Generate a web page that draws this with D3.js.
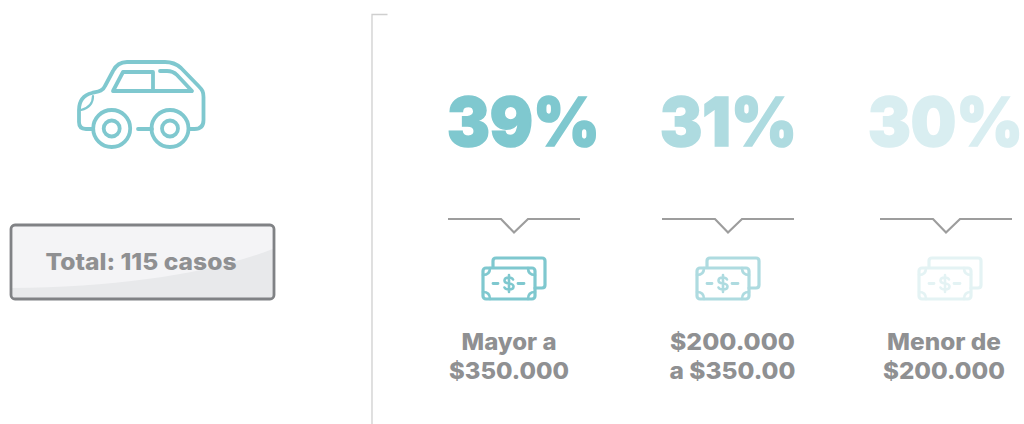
<!DOCTYPE html>
<html><head><meta charset="utf-8">
<script src="https://cdn.jsdelivr.net/npm/d3@7"></script>
<style>html,body{margin:0;padding:0;background:#fff}svg{display:block}text{font-family:Inter,"Open Sans",sans-serif}</style>
</head><body><svg id="c" width="1024" height="424"></svg>
<script>
const categories = ["Mayor a|$350.000", "$200.000|a $350.00", "Menor de|$200.000"];
const percents = [39, 31, 30];
const colors = ["#7fc8cf", "#aedbe0", "#d9eef1"];
const iconColors = ["#7fc8cf", "#aedbe0", "#e4f3f4"];
const totalLabel = "Total: 115 casos";
const pctX = [447, 660, 868], pctW = [153, 137, 155];
const lineX = [448, 662, 880];
const iconDx = [0, 214, 436];
const labelCx = [509, 732.5, 944];
const labelW = [[95, 120], [125, 126], [114, 122]];
const grey = "#8f9092";

const svg = d3.select("#c");

// divider
svg.append("path").attr("d", "M387.5 14.5H372V424").attr("fill", "none").attr("stroke", "#cfcfcf").attr("stroke-width", 1.3);

// car
const car = svg.append("g").attr("fill", "none").attr("stroke", "#7fc8cf").attr("stroke-width", 3.8)
  .attr("stroke-linecap", "round").attr("stroke-linejoin", "round");
car.append("path").attr("d", "M92 129H86Q79 129 79 122V110C79 100 84 95 92 93C98 91.500 103 91 105 86L113 71C116 65 120 62 127 62H165C172 62 176 63.500 181 68L198.500 86C202.500 90 203.500 92 203.500 97V120C203.500 126 200.500 129 194.500 129H190");
car.append("path").attr("d", "M138 129H152");
car.append("path").attr("d", "M113 91L123 72H153V91M160 71H167C171 71 174 72 177 75L192 91H113");
car.append("path").attr("stroke-width", 2.2).attr("d", "M93 96C93 104 89 108 81 110");
[[111.7], [170]].forEach(([cx]) => {
  car.append("circle").attr("cx", cx).attr("cy", 128.5).attr("r", 18.5);
  car.append("circle").attr("cx", cx).attr("cy", 128.5).attr("r", 8);
});

// button
const clip = svg.append("clipPath").attr("id", "b");
clip.append("rect").attr("x", 11).attr("y", 225).attr("width", 263).attr("height", 74).attr("rx", 4);
svg.append("rect").attr("x", 11).attr("y", 225).attr("width", 263).attr("height", 74).attr("rx", 4).attr("fill", "#f4f4f6");
svg.append("path").attr("clip-path", "url(#b)").attr("fill", "#e8e9eb").attr("d", "M10 288C120 287 210 274 275 248V300H10Z");
svg.append("rect").attr("x", 11).attr("y", 225).attr("width", 263).attr("height", 74).attr("rx", 4)
  .attr("fill", "none").attr("stroke", "#808285").attr("stroke-width", 2.8);
svg.append("text").text(totalLabel).attr("x", 45.500).attr("y", 270).attr("font-size", 23).attr("font-weight", 800)
  .attr("fill", grey).attr("textLength", 191).attr("lengthAdjust", "spacingAndGlyphs");

// columns
const cols = svg.selectAll("g.col").data(percents).join("g").attr("class", "col");

cols.append("text").text(d => d + "%")
  .attr("font-size", 68).attr("font-weight", 900).attr("fill", (d, i) => colors[i])
  .attr("stroke", (d, i) => colors[i]).attr("stroke-width", 1.6)
  .attr("transform", function (d, i) {
    return `translate(${pctX[i]},146) scale(${pctW[i] / this.getComputedTextLength()},1)`;
  });

cols.append("path").attr("fill", "none").attr("stroke", "#9d9d9d").attr("stroke-width", 2.2)
  .attr("d", (d, i) => { const x = lineX[i]; return `M${x} 219H${x + 53}L${x + 66} 232.500L${x + 80} 219H${x + 132}`; });

const money = cols.append("g").attr("transform", (d, i) => `translate(${iconDx[i]},0)`)
  .attr("fill", "none").attr("stroke", (d, i) => iconColors[i]).attr("stroke-width", 3.2)
  .attr("stroke-linecap", "round").attr("stroke-linejoin", "round");
money.append("path").attr("d", "M493 267V261Q493 258 496 258H542Q545 258 545 261V285Q545 288 542 288H535");
money.append("rect").attr("x", 483).attr("y", 268).attr("width", 52).attr("height", 31).attr("rx", 3);
money.append("path").attr("stroke-width", 2.6).attr("d", "M483 275Q490 275 490 268M528 268Q528 275 535 275M483 292Q490 292 490 299M528 299Q528 292 535 292");
money.append("path").attr("stroke-width", 2.8).attr("d", "M493 283.500H498M518 283.500H524");
money.append("path").attr("stroke-width", 2.6).attr("d", "M513 279.500Q512 277.500 509 277.500Q504.500 277.500 504.500 280.500Q504.500 283 509 283.500Q513.500 284 513.500 286.500Q513.500 289.500 509 289.500Q505.500 289.500 504.500 287.500M509 275V292");

cols.each(function (d, i) {
  const lines = categories[i].split("|");
  d3.select(this).selectAll("text.lab").data(lines).join("text").attr("class", "lab").text(t => t)
    .attr("x", labelCx[i]).attr("y", (t, j) => 350 + j * 29).attr("text-anchor", "middle")
    .attr("font-size", 23).attr("font-weight", 800).attr("fill", grey)
    .attr("textLength", (t, j) => labelW[i][j]).attr("lengthAdjust", "spacingAndGlyphs");
});
</script></body></html>
